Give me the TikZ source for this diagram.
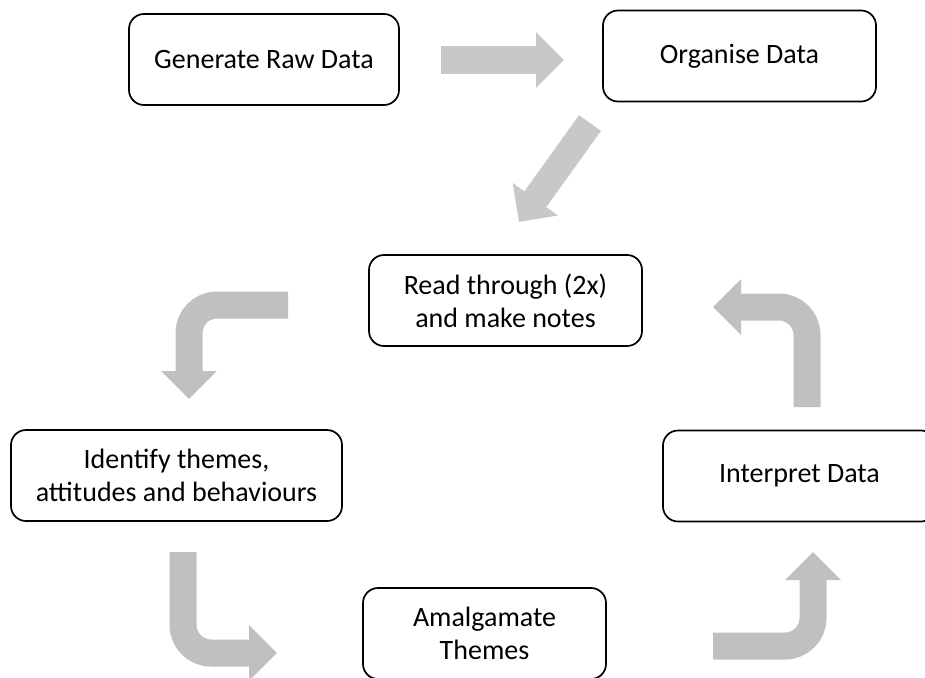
\documentclass[tikz,border=0pt]{standalone}
\usepackage{fontspec}
\setmainfont{Carlito}
\usetikzlibrary{arrows.meta}
\newcommand\bw{27pt}
\definecolor{turngray}{HTML}{C0C0C0}
\definecolor{flowgray}{HTML}{C8C8C8}

\begin{document}
\begin{tikzpicture}[
			x=1pt,y=-1pt,
			stage/.style={draw,line width=1.7pt,rounded corners=15pt,minimum height=91pt,inner sep=0pt,align=center,font=\fontsize{28}{33}\selectfont},
			turn/.style={draw=turngray,line width=\bw,rounded corners=28pt,-{Triangle[length=28pt 0 0,width=54pt 0 0]}},
			flow/.style={draw=flowgray,line width=\bw,-{Triangle[length=28pt 0 0,width=54pt 0 0]}},
		]
		\clip (0,0) rectangle (925,677);

		\node [stage,minimum width=270pt] (gen) at (264,59.5) {Generate Raw Data};
		\node [stage,minimum width=273pt] (org) at (739.5,56) {Organise Data};
		\node [stage,minimum width=273pt] (read) at (505.5,300.5) {Read through (2x)\\and make notes};
		\node [stage,minimum width=331pt] (ident) at (176.5,475.5) {Identify themes,\\attitudes and behaviours};
		\node [stage,minimum width=273pt] (interp) at (799.5,476) {Interpret Data};
		\node [stage,minimum width=243pt] (amal) at (484.5,633.5) {Amalgamate\\Themes};

		% arrow ends
		\coordinate (f1a) at (441,60);   \coordinate (f1b) at (564,60);
		\coordinate (f2a) at (590,123);  \coordinate (f2b) at (519,222);
		\coordinate (t1a) at (288,305);  \coordinate (t1b) at (189,399);
		\coordinate (t2a) at (183,552);  \coordinate (t2b) at (277,653);
		\coordinate (t3a) at (713,646);  \coordinate (t3b) at (813,552);
		\coordinate (t4a) at (807,407);  \coordinate (t4b) at (713,307);

		\draw[flow] (f1a)--(f1b);
		\draw[flow] (f2a)--(f2b);
		\draw[turn] (t1a)-|(t1b);
		\draw[turn] (t2a)|-(t2b);
		\draw[turn] (t3a)-|(t3b);
		\draw[turn] (t4a)|-(t4b);
	\end{tikzpicture}
\end{document}
